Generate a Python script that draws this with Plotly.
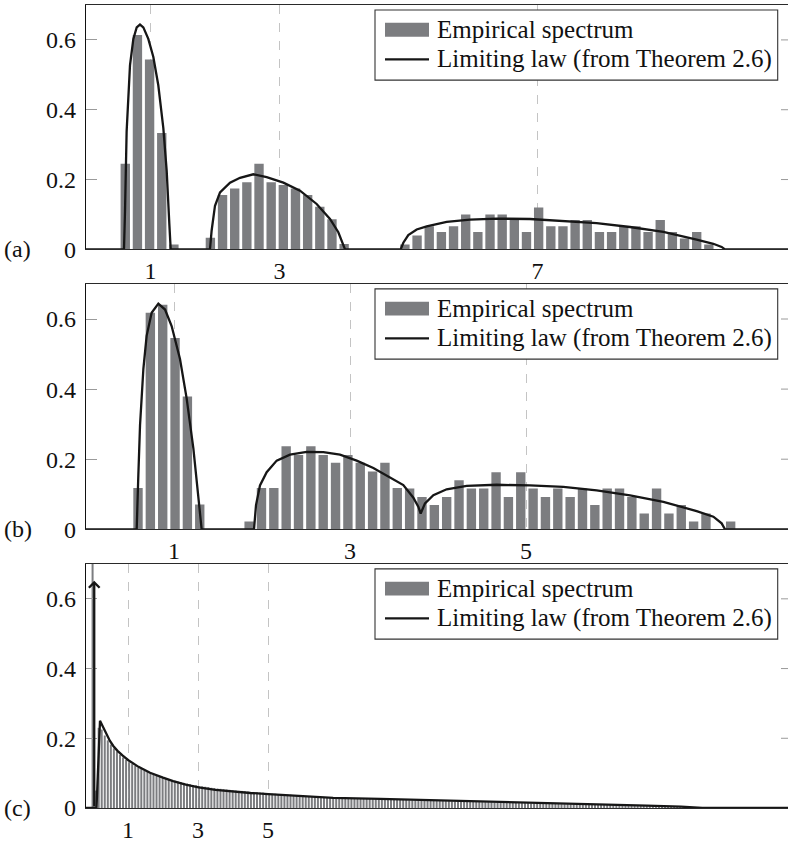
import plotly.graph_objects as go

# ---------------- data ----------------
Y_TICKS = [0, 0.2, 0.4, 0.6]
Y_TICK_TEXT = ["0", "0.2", "0.4", "0.6"]
A_X_TICKS = [1, 3, 7]
B_X_TICKS = [1, 3, 5]
C_X_TICKS = [1, 3, 5]
PANEL_LABELS = ["(a)", "(b)", "(c)"]
LEGEND_BARS = "Empirical spectrum"
LEGEND_LINE = "Limiting law (from Theorem 2.6)"

# histogram bins: centre of first bin and bin width
A_BIN_FIRST, A_BIN_WIDTH = 0.609, 0.1885
A_HEIGHTS = [0.245, 0.614, 0.544, 0.333, 0.014, 0, 0,
             0.033, 0.156, 0.174, 0.192, 0.245, 0.192, 0.184, 0.174, 0.156, 0.122, 0.086, 0.015,
             0, 0, 0, 0,
             0.014, 0.04, 0.066, 0.05, 0.066, 0.1, 0.05, 0.1, 0.1, 0.084, 0.05, 0.12, 0.066,
             0.066, 0.084, 0.084, 0.05, 0.05, 0.066, 0.066, 0.05, 0.084, 0.05, 0.031, 0.05, 0.014]

B_BIN_FIRST, B_BIN_WIDTH = 0.591, 0.1403
B_HEIGHTS = [0.118, 0.618, 0.641, 0.546, 0.379, 0.071, 0, 0, 0,
             0.022, 0.118, 0.118, 0.237, 0.212, 0.237, 0.212, 0.19, 0.212, 0.19, 0.165, 0.19,
             0.118, 0.116, 0.092, 0.069, 0.092, 0.14, 0.116, 0.116, 0.163, 0.092, 0.163, 0.116,
             0.092, 0.116, 0.092, 0.116, 0.069, 0.116, 0.116, 0.092, 0.045, 0.116, 0.045, 0.069,
             0.022, 0.045, 0, 0.022]

C_BIN_FIRST, C_BIN_WIDTH = -0.012, 0.087
C_HEIGHTS = [3.0, 0.05, 0.23, 0.225, 0.208, 0.194, 0.182, 0.171, 0.162, 0.153,
             0.145, 0.138, 0.131, 0.126, 0.121, 0.116, 0.112, 0.108, 0.104, 0.100,
             0.097, 0.094, 0.091, 0.088, 0.085, 0.082, 0.080, 0.078, 0.076, 0.074,
             0.072, 0.070, 0.068, 0.066, 0.065, 0.063, 0.062, 0.061, 0.060, 0.058,
             0.057, 0.056, 0.055, 0.054, 0.053, 0.052, 0.051, 0.050, 0.049, 0.049,
             0.048, 0.047, 0.046, 0.046, 0.045, 0.044, 0.044, 0.043, 0.042, 0.041,
             0.041, 0.040, 0.039, 0.039, 0.038, 0.038, 0.037, 0.036, 0.036, 0.035,
             0.034, 0.034, 0.033, 0.033, 0.032, 0.032, 0.031, 0.031, 0.030, 0.030,
             0.029, 0.029, 0.028, 0.028, 0.028, 0.027, 0.027, 0.027, 0.026, 0.026,
             0.026, 0.026, 0.025, 0.025, 0.025, 0.025, 0.024, 0.024, 0.024, 0.024,
             0.023, 0.023, 0.023, 0.023, 0.022, 0.022, 0.022, 0.022, 0.021, 0.021,
             0.021, 0.021, 0.021, 0.020, 0.020, 0.020, 0.020, 0.020, 0.019, 0.019,
             0.019, 0.019, 0.019, 0.018, 0.018, 0.018, 0.018, 0.018, 0.017, 0.017,
             0.017, 0.017, 0.016, 0.016, 0.016, 0.016, 0.015, 0.015, 0.015, 0.015,
             0.014, 0.014, 0.014, 0.014, 0.013, 0.013, 0.013, 0.013, 0.013, 0.012,
             0.012, 0.012, 0.012, 0.012, 0.011, 0.011, 0.011, 0.011, 0.011, 0.011,
             0.011, 0.010, 0.010, 0.010, 0.010, 0.010, 0.010, 0.009, 0.009, 0.009,
             0.009, 0.009, 0.009, 0.008, 0.008, 0.008, 0.008, 0.008, 0.008, 0.007,
             0.007, 0.007, 0.007, 0.006, 0.006, 0.006, 0.006, 0.005, 0.005, 0.005,
             0.005, 0.004, 0.004, 0.004, 0.003, 0.003, 0.003, 0.002, 0.002, 0.001]

# limiting-law curves (x, density)
A_CURVE_X = [0, 0.589, 0.605, 0.630, 0.682, 0.734, 0.786, 0.837, 0.889, 0.966, 1.044, 1.121,
             1.199, 1.251, 1.292, 1.313,
             1.922, 1.948, 2.0, 2.078, 2.233, 2.388, 2.594, 2.801, 3.06, 3.318, 3.576, 3.783,
             3.912, 3.99, 4.016,
             4.879, 4.92, 4.997, 5.127, 5.282, 5.592, 5.953, 6.367, 6.884, 7.401, 7.917, 8.434,
             8.951, 9.468, 9.726, 9.855, 9.907, 11]
A_CURVE_Y = [0, 0, 0.11, 0.338, 0.527, 0.603, 0.636, 0.644, 0.636, 0.603, 0.551, 0.47,
             0.347, 0.225, 0.073, 0,
             0, 0.054, 0.125, 0.163, 0.191, 0.205, 0.215, 0.207, 0.191, 0.168, 0.13, 0.087,
             0.049, 0.011, 0,
             0, 0.019, 0.041, 0.057, 0.066, 0.079, 0.085, 0.088, 0.087, 0.082, 0.075, 0.064,
             0.05, 0.028, 0.016, 0.007, 0, 0]

B_CURVE_X = [0, 0.576, 0.595, 0.614, 0.652, 0.689, 0.746, 0.822, 0.898, 0.973, 1.068, 1.144,
             1.22, 1.277, 1.314,
             1.909, 1.932, 1.977, 2.053, 2.167, 2.318, 2.508, 2.697, 2.886, 3.076, 3.265, 3.455,
             3.606, 3.72, 3.777, 3.803, 3.852, 3.947, 4.098, 4.326, 4.667, 5.045, 5.424, 5.803,
             6.182, 6.561, 6.939, 7.129, 7.223, 7.261, 8]
B_CURVE_Y = [0, 0, 0.156, 0.297, 0.458, 0.552, 0.618, 0.644, 0.627, 0.58, 0.486, 0.373,
             0.231, 0.08, 0,
             0, 0.069, 0.125, 0.163, 0.196, 0.213, 0.221, 0.22, 0.213, 0.196, 0.175, 0.149,
             0.126, 0.09, 0.064, 0.045, 0.074, 0.097, 0.114, 0.124, 0.127, 0.125, 0.121, 0.111,
             0.097, 0.078, 0.052, 0.036, 0.017, 0, 0]

C_CURVE_X = [-0.2, 0.1, 0.2, 0.3, 0.39, 0.48, 0.58, 0.7, 0.85, 1.01, 1.3, 1.63, 2.0, 2.29,
             2.65, 3.02, 3.5, 4.01, 4.5, 5.01, 6.0, 6.86, 8.2, 9.5, 10.97, 12.5, 13.91, 15.82,
             16.8, 17.41, 19.9]
C_CURVE_Y = [0, 0, 0.25, 0.228, 0.21, 0.193, 0.178, 0.164, 0.15, 0.137, 0.118, 0.101, 0.087,
             0.077, 0.067, 0.059, 0.052, 0.047, 0.043, 0.04, 0.034, 0.029, 0.026, 0.023, 0.019,
             0.015, 0.011, 0.007, 0.004, 0, 0]
C_DIRAC_X, C_DIRAC_TOP = 0.035, 0.652

X_RANGES = [[0, 10.884], [0, 7.977], [-0.2, 19.857]]
Y_RANGE = [0, 0.7]

# ---------------- styling ----------------
FONT = "Liberation Serif"
BAR_COLOR = "#7c7d80"
LINE_COLOR = "#161616"
GRID_COLOR = "#c4c4c4"
W, H = 788, 843
ML, MT, MB = 86, 5, 26
DOMAINS = [[0.6957, 1.0], [0.3471, 0.6526], [0.0, 0.3039]]

fig = go.Figure()

panels = [
    (A_BIN_FIRST, A_BIN_WIDTH, A_HEIGHTS, A_CURVE_X, A_CURVE_Y, A_X_TICKS, 0.77),
    (B_BIN_FIRST, B_BIN_WIDTH, B_HEIGHTS, B_CURVE_X, B_CURVE_Y, B_X_TICKS, 0.76),
    (C_BIN_FIRST, C_BIN_WIDTH, C_HEIGHTS, C_CURVE_X, C_CURVE_Y, C_X_TICKS, 0.66),
]

shapes = []
annotations = []
plot_h = H - MT - MB
plot_w = W - ML

for i, (first, width, heights, cx, cy, xt, frac) in enumerate(panels):
    n = "" if i == 0 else str(i + 1)
    xa, ya = "x" + n, "y" + n
    xs = [first + width * k for k in range(len(heights))]
    fig.add_trace(go.Bar(x=xs, y=heights, width=width * frac, xaxis=xa, yaxis=ya,
                         marker=dict(color=BAR_COLOR, line=dict(width=0)),
                         showlegend=False))
    fig.add_trace(go.Scatter(x=cx, y=cy, mode="lines", xaxis=xa, yaxis=ya,
                             line=dict(color=LINE_COLOR, width=2.3), showlegend=False,
                             cliponaxis=True))
    fig.layout["xaxis" + n] = dict(
        domain=[0, 1], range=X_RANGES[i], anchor=ya, tickvals=xt,
        ticktext=[str(v) for v in xt], ticks="", showgrid=True, griddash="dash",
        gridcolor=GRID_COLOR, gridwidth=1, showline=True, mirror=True,
        linecolor="#2a2a2a", linewidth=1.3, zeroline=False,
        tickfont=dict(family=FONT, size=24, color="#111"), fixedrange=True)
    fig.layout["yaxis" + n] = dict(
        domain=DOMAINS[i], range=Y_RANGE, anchor=xa, tickvals=Y_TICKS,
        ticktext=Y_TICK_TEXT, ticks="inside", ticklen=11, tickcolor="#9a9a9a",
        tickwidth=1, showgrid=False, zeroline=False, showline=True,
        linecolor="#111", linewidth=1.3, ticklabelstandoff=4,
        tickfont=dict(family=FONT, size=24, color="#111"), fixedrange=True)

    top_px = MT + plot_h * (1 - DOMAINS[i][1])
    bot_px = MT + plot_h * (1 - DOMAINS[i][0])
    ph = bot_px - top_px

    def yd(rel):
        return 1 - rel / ph

    def xd(px):
        return (px - ML) / plot_w

    for t in Y_TICKS[1:]:
        shapes.append(dict(type="line", xref=xa + " domain", yref=ya,
                           x0=1 - 7 / plot_w, x1=1, y0=t, y1=t,
                           line=dict(color="#9a9a9a", width=1)))

    shapes.append(dict(type="rect", xref=xa + " domain", yref=ya + " domain",
                       x0=xd(375), x1=xd(777.7), y0=yd(76), y1=yd(5),
                       fillcolor="white", line=dict(color="#333", width=1.1), layer="above"))
    shapes.append(dict(type="rect", xref=xa + " domain", yref=ya + " domain",
                       x0=xd(385), x1=xd(429), y0=yd(32), y1=yd(18),
                       fillcolor=BAR_COLOR, line=dict(width=0), layer="above"))
    shapes.append(dict(type="line", xref=xa + " domain", yref=ya + " domain",
                       x0=xd(385), x1=xd(429), y0=yd(55), y1=yd(55),
                       line=dict(color=LINE_COLOR, width=2.3), layer="above"))
    annotations.append(dict(xref=xa + " domain", yref=ya + " domain", x=xd(435), y=yd(24.5),
                            xanchor="left", yanchor="middle", showarrow=False,
                            text=LEGEND_BARS, font=dict(family=FONT, size=25, color="#111")))
    annotations.append(dict(xref=xa + " domain", yref=ya + " domain", x=xd(435), y=yd(54.5),
                            xanchor="left", yanchor="middle", showarrow=False,
                            text=LEGEND_LINE, font=dict(family=FONT, size=25, color="#111")))
    annotations.append(dict(xref="paper", yref=ya + " domain", x=(2 - ML) / plot_w, y=0,
                            xanchor="left", yanchor="middle", showarrow=False,
                            text=PANEL_LABELS[i], font=dict(family=FONT, size=24, color="#111")))

annotations.append(dict(xref="x3", yref="y3", axref="x3", ayref="y3",
                        x=C_DIRAC_X, y=C_DIRAC_TOP, ax=C_DIRAC_X, ay=0, text="",
                        showarrow=True, arrowhead=4, arrowsize=0.9, arrowwidth=2.3,
                        arrowcolor=LINE_COLOR, standoff=0, startstandoff=0))

fig.update_layout(
    width=W, height=H, margin=dict(l=ML, r=0, t=MT, b=MB, pad=0),
    paper_bgcolor="white", plot_bgcolor="white", barmode="overlay",
    shapes=shapes, annotations=annotations, showlegend=False,
    font=dict(family=FONT, size=24, color="#111"),
)

fig.write_html("out.html")
